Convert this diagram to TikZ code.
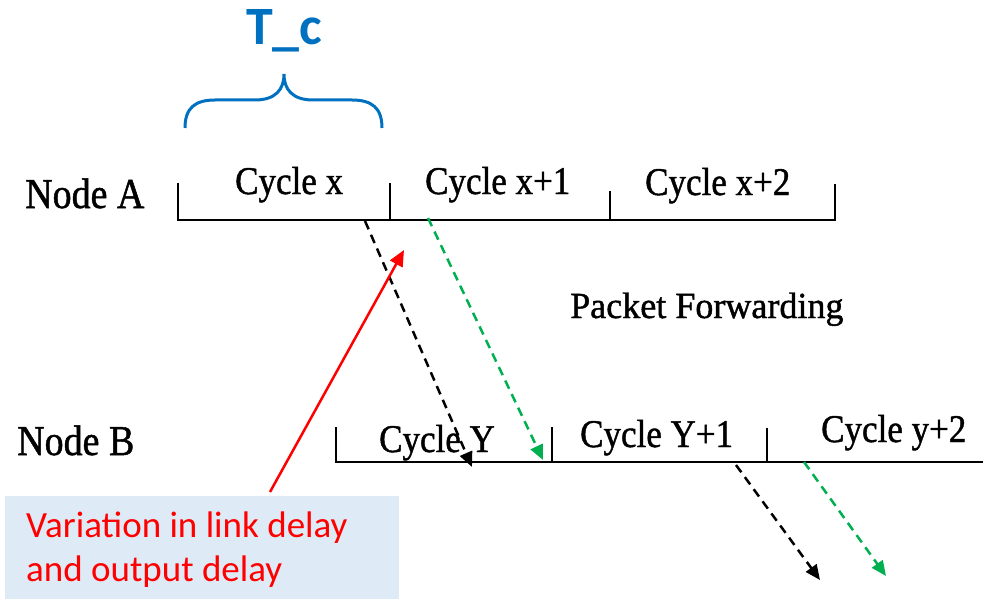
\documentclass[tikz,border=0pt]{standalone}
\usepackage{fontspec}
\setmainfont{Liberation Serif}
\newfontfamily\heavyserif[FakeBold=1.2]{Liberation Serif}
\newfontfamily\calib{Carlito}
\usetikzlibrary{arrows.meta}
\definecolor{tcblue}{HTML}{0070C0}
\definecolor{fwgreen}{HTML}{00B050}
\definecolor{boxblue}{HTML}{DEEBF7}
\definecolor{redline}{HTML}{FF0000}
\tikzset{
  lbl/.style={inner sep=0pt, anchor=base west},
  cyc/.style={lbl, font=\heavyserif\fontsize{35}{40}\selectfont},
  nodelbl/.style={lbl, font=\heavyserif\fontsize{38}{44}\selectfont},
  tline/.style={line width=2.4pt, black},
  pkt/.style={line width=2.5pt, dash pattern=on 9pt off 6pt, -{Triangle[length=15pt,width=13pt]}},
}
\newcommand{\tallish}[1]{\scalebox{1}[1.12]{#1}}
\begin{document}
\begin{tikzpicture}[x=1pt,y=-1pt]
\useasboundingbox (0,0) rectangle (983,599);
% T_c label and brace
\node[lbl, text=tcblue, font=\calib\bfseries\fontsize{54}{60}\selectfont] (tc) at (246,45) {T\_c};
\draw[tcblue, line width=3pt] (185,128) .. controls (185,108) and (195,100) .. (215,100)
  -- (255,100) .. controls (275,100) and (284,90) .. (284,74)
  .. controls (284,90) and (293,100) .. (313,100)
  -- (352,100) .. controls (372,100) and (382,108) .. (382,128);
% Node A timeline
\node[nodelbl] (na) at (25,208) {\tallish{Node A}};
\coordinate (a0) at (178,220);
\coordinate (a1) at (390,220);
\coordinate (a2) at (610,220);
\coordinate (a3) at (835,220);
\draw[tline] (178,183) -- (a0) -- (a3) -- (835,184);
\draw[tline] (a1) -- (390,183);
\draw[tline] (a2) -- (610,191);
\node[cyc] (cx) at (235,194) {\tallish{Cycle x}};
\node[cyc] (cx1) at (425,194) {\tallish{Cycle x+1}};
\node[cyc] (cx2) at (645,195) {\tallish{Cycle x+2}};
% Packet forwarding
\node[cyc] (pf) at (570,318) {\scalebox{1.03}[1.05]{Packet Forwarding}};
% Node B timeline
\node[nodelbl] (nb) at (17,455) {\tallish{Node B}};
\coordinate (b0) at (336,462);
\coordinate (b1) at (552,462);
\coordinate (b2) at (767,462);
\coordinate (b3) at (983,462);
\draw[tline] (336,427) -- (b0) -- (b3);
\draw[tline] (b1) -- (552,427);
\draw[tline] (b2) -- (767,428);
\node[cyc] (cy) at (379,452) {\tallish{Cycle Y}};
\node[cyc] (cy1) at (580,447) {\tallish{Cycle Y+1}};
\node[cyc] (cy2) at (821,442) {\tallish{Cycle y+2}};
% packet arrows
\coordinate (p1s) at (365,221);
\coordinate (p1e) at (472,467);
\coordinate (p2s) at (428,218);
\coordinate (p2e) at (543,460);
\coordinate (p3s) at (736,465);
\coordinate (p3e) at (820,580);
\coordinate (p4s) at (804,462);
\coordinate (p4e) at (886,576);
\draw[pkt, black] (p1s) -- (p1e);
\draw[pkt, fwgreen] (p2s) -- (p2e);
\draw[pkt, black] (p3s) -- (p3e);
\draw[pkt, fwgreen] (p4s) -- (p4e);
% Variation box
\node[fill=boxblue, minimum width=394pt, minimum height=104pt, inner sep=0pt, anchor=north west] (vbox) at (5,496) {};
\node[lbl, text=redline, font=\calib\fontsize{37}{44}\selectfont, align=left, anchor=north west] (vtxt) at (26,512) {Variation in link delay\\and output delay};
\coordinate (rtip) at (404,250);
\draw[redline, line width=2.5pt, -{Triangle[length=16pt,width=14pt]}] (270,492) -- (rtip);
\end{tikzpicture}
\end{document}
